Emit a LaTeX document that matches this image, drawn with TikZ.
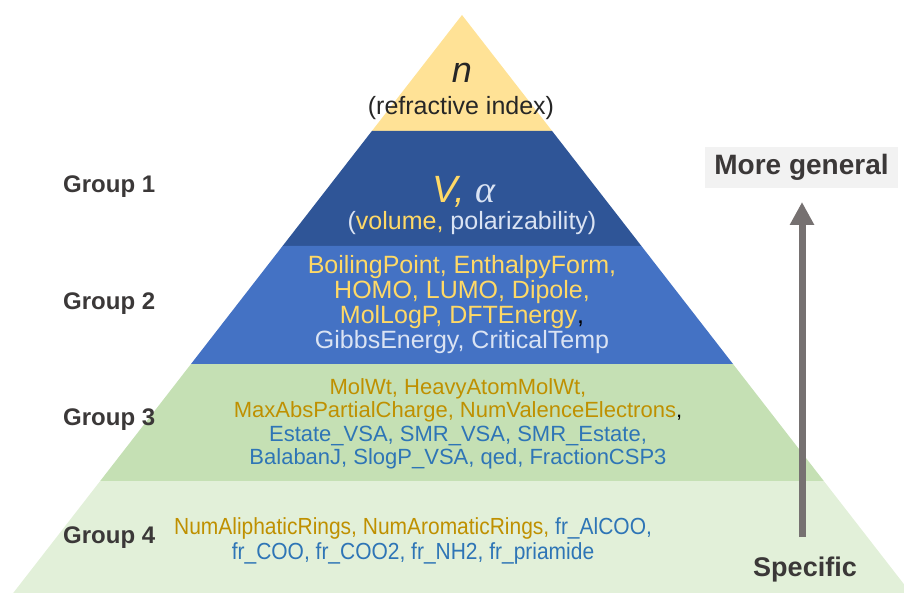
\documentclass[tikz,border=0pt]{standalone}
\usepackage{fontspec}
\setmainfont{Liberation Sans}
\newfontfamily\greekfont{Liberation Serif}
\newfontfamily\narrowfont[FakeStretch=0.9]{Liberation Sans}
\usetikzlibrary{arrows.meta}
\definecolor{topyel}{RGB}{255,226,150}
\definecolor{gonefill}{RGB}{47,85,151}
\definecolor{gtwofill}{RGB}{68,114,196}
\definecolor{gthreefill}{RGB}{197,224,180}
\definecolor{gfourfill}{RGB}{226,240,217}
\definecolor{yeltxt}{RGB}{255,217,102}
\definecolor{lighttxt}{RGB}{218,227,243}
\definecolor{goldtxt}{RGB}{191,144,0}
\definecolor{bluetxt}{RGB}{46,117,182}
\definecolor{darktxt}{RGB}{59,56,56}
\definecolor{arrowgrey}{RGB}{118,113,113}
\definecolor{boxgrey}{RGB}{242,242,242}
\tikzset{
  grouplabel/.style={anchor=west, font=\fontsize{24}{28}\selectfont\bfseries, text=darktxt, inner sep=0pt},
  layertext/.style={align=center, inner sep=0pt},
}
\begin{document}
\begin{tikzpicture}[x=1pt,y=-1pt]
\useasboundingbox (0,0) rectangle (904,593);
\begin{scope}
\clip (0,0) rectangle (904,593);
% half-width = 0.7765*(y-15), apex at (462,15)
\fill[topyel] (462,15) -- (552.1,131) -- (371.9,131) -- cycle;
\fill[gonefill] (371.9,131) -- (552.1,131) -- (641.4,246) -- (282.6,246) -- cycle;
\fill[gtwofill] (282.6,246) -- (641.4,246) -- (733.0,364) -- (191.0,364) -- cycle;
\fill[gthreefill] (191.0,364) -- (733.0,364) -- (823.8,481) -- (100.2,481) -- cycle;
\fill[gfourfill] (100.2,481) -- (823.8,481) -- (910.8,593) -- (13.2,593) -- cycle;
\end{scope}

% top layer
\node[layertext, font=\fontsize{36}{40}\selectfont\itshape, text={rgb,255:red,38;green,38;blue,38}] (ntext) at (462,73) {n};
\node[layertext, font=\fontsize{25}{28}\selectfont, text={rgb,255:red,38;green,38;blue,38}] (ntextsub) at (461,108) {(refractive index)};

% group 1
\node[layertext, font=\fontsize{38}{42}\selectfont] (vtext) at (464,192) {\textcolor{yeltxt}{\itshape V,} \textcolor{lighttxt}{\greekfont\itshape α}};
\node[layertext, font=\fontsize{25}{28}\selectfont, text=lighttxt] (vtextsub) at (472,223) {(\textcolor{yeltxt}{volume,} polarizability)};

% group 2
\node[layertext, font=\fontsize{25}{25}\selectfont, text=yeltxt] (gtwotext) at (462,305) {BoilingPoint, EnthalpyForm,\\HOMO, LUMO, Dipole,\\MolLogP, DFTEnergy\textcolor{black}{,}\\\textcolor{lighttxt}{GibbsEnergy, CriticalTemp}};

% group 3
\node[layertext, font=\fontsize{22}{23.5}\selectfont, text=goldtxt] (gthreetext) at (458,424) {MolWt, HeavyAtomMolWt,\\MaxAbsPartialCharge, NumValenceElectrons\textcolor{black}{,}\\\textcolor{bluetxt}{Estate\_VSA, SMR\_VSA, SMR\_Estate,}\\\textcolor{bluetxt}{BalabanJ, SlogP\_VSA, qed, FractionCSP3}};

% group 4
\node[layertext, font=\narrowfont\fontsize{23.3}{24.5}\selectfont, text=goldtxt] (gfourtext) at (413,541) {NumAliphaticRings, NumAromaticRings, \textcolor{bluetxt}{fr\_AlCOO,}\\\textcolor{bluetxt}{fr\_COO, fr\_COO2, fr\_NH2, fr\_priamide}};

% group labels
\node[grouplabel] (gone) at (63,187) {Group 1};
\node[grouplabel] (gtwo) at (63,304) {Group 2};
\node[grouplabel] (gthree) at (63,420) {Group 3};
\node[grouplabel] (gfour) at (63,538) {Group 4};

% arrow and labels
\node[fill=boxgrey, minimum width=193pt, minimum height=41pt, inner sep=0pt, font=\fontsize{28}{32}\selectfont\bfseries, text=darktxt] (general) at (801.5,167.5) {More general};
\node[font=\fontsize{27}{30}\selectfont\bfseries, text=darktxt, inner sep=0pt] (specific) at (805,570) {Specific};
\coordinate (arrowstart) at (802,537);
\coordinate (arrowend) at (802,202);
\draw[arrowgrey, line width=7pt, -{Triangle[width=23pt,length=23pt]}] (arrowstart) -- (arrowend);
\end{tikzpicture}
\end{document}
